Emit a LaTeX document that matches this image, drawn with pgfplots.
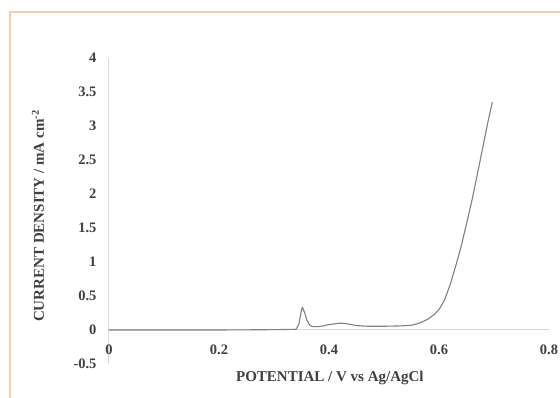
\documentclass[border=0pt]{standalone}
\usepackage{pgfplots}
\pgfplotsset{compat=1.18}
\usepackage{fontspec}
\setmainfont{Liberation Serif}
\definecolor{bordc}{RGB}{248,203,173}
\definecolor{axc}{RGB}{217,217,217}
\definecolor{curvc}{RGB}{128,128,128}
\definecolor{txtc}{RGB}{64,64,64}
\begin{document}
\begin{tikzpicture}[x=1pt,y=1pt]
\useasboundingbox (0,0) rectangle (560,398);
\draw[bordc, line width=1.6pt] (10,0) -- (10,386) -- (560,386);
\begin{axis}[
  at={(109pt,34pt)}, anchor=south west,
  width=440pt, height=306pt, scale only axis,
  xmin=0, xmax=0.8, ymin=-0.5, ymax=4,
  axis x line=middle, axis y line=left,
  x axis line style={-, axc, line width=1pt},
  y axis line style={-, axc, line width=1pt},
  hide obscured x ticks=false, hide obscured y ticks=false,
  major tick length=0pt,
  xtick={0,0.2,0.4,0.6,0.8},
  xticklabels={0,0.2,0.4,0.6,0.8},
  ytick={-0.5,0,0.5,1,1.5,2,2.5,3,3.5,4},
  yticklabels={-0.5,0,0.5,1,1.5,2,2.5,3,3.5,4},
  ticklabel style={font=\fontsize{14.5}{16}\selectfont\bfseries, text=txtc},
  xticklabel style={anchor=center, yshift=-20pt},
  yticklabel style={anchor=east, xshift=-9pt},
  xlabel={POTENTIAL  / V vs Ag/AgCl},
  ylabel={CURRENT DENSITY / mA cm\textsuperscript{-2}},
  label style={font=\fontsize{15}{17}\selectfont\bfseries, text=txtc},
  xlabel style={at={(axis description cs:0.502,-0.046)}, anchor=center},
  ylabel style={at={(axis description cs:-0.1614,0.4837)}, anchor=center, rotate=0},
  clip=false,
]
\addplot[curvc, line width=1.1pt] coordinates {
(0,0) (0.1,0) (0.2,0) (0.3,0.005) (0.34,0.01) (0.345,0.08) (0.350,0.30)
(0.352,0.33) (0.356,0.25) (0.360,0.14) (0.365,0.07) (0.370,0.05)
(0.38,0.05) (0.39,0.06) (0.40,0.08) (0.41,0.09) (0.42,0.10) (0.43,0.095)
(0.44,0.08) (0.45,0.065) (0.47,0.055) (0.50,0.055) (0.53,0.06) (0.55,0.07)
(0.56,0.09) (0.57,0.12) (0.58,0.16) (0.59,0.22) (0.60,0.30) (0.61,0.44)
(0.62,0.66) (0.63,0.93) (0.64,1.22) (0.65,1.56) (0.66,1.91) (0.67,2.30)
(0.68,2.70) (0.69,3.10) (0.697,3.35)
};
\end{axis}
\end{tikzpicture}
\end{document}
